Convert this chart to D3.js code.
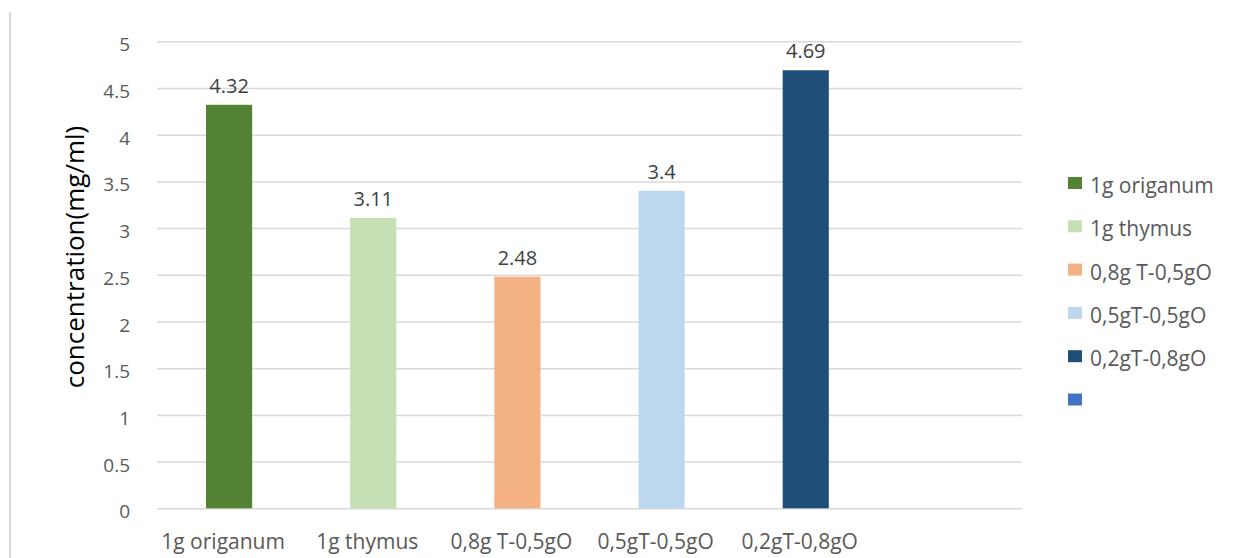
<!DOCTYPE html>
<html>
<head>
<meta charset="utf-8">
<script src="https://cdn.jsdelivr.net/npm/d3@7"></script>
<style>
  html, body { margin: 0; padding: 0; background: #fff; }
  svg { display: block; font-family: "Open Sans", sans-serif; }
</style>
</head>
<body>
<svg id="chart" width="1245" height="558"></svg>
<script>
// Categories along the x axis (the sixth slot is an empty series)
const categories = ["1g origanum", "1g thymus", "0,8g T-0,5gO", "0,5gT-0,5gO", "0,2gT-0,8gO", ""];
// Measured concentrations (mg/ml); the last series has no value
const values = [4.32, 3.11, 2.48, 3.4, 4.69, null];
// Labels printed above each bar
const valueLabels = ["4.32", "3.11", "2.48", "3.4", "4.69", ""];
// Legend entries
const legendLabels = ["1g origanum", "1g thymus", "0,8g T-0,5gO", "0,5gT-0,5gO", "0,2gT-0,8gO", ""];
// Series colours
const colors = ["#548235", "#C5E0B4", "#F4B183", "#BDD7EE", "#1F4E79", "#4472C4"];
// Y axis ticks
const yTicks = [0, 0.5, 1, 1.5, 2, 2.5, 3, 3.5, 4, 4.5, 5];
const yTickLabels = ["0", "0.5", "1", "1.5", "2", "2.5", "3", "3.5", "4", "4.5", "5"];
const yTitle = "concentration(mg/ml)";

const svg = d3.select("#chart");
const plot = { left: 157, right: 1022, top: 41.3, bottom: 508.3 };

const x = d3.scaleBand()
  .domain(d3.range(categories.length))
  .range([plot.left, plot.right])
  .paddingInner(0.68)
  .paddingOuter(0.34);

const y = d3.scaleLinear().domain([0, 5]).range([plot.bottom, plot.top]);

// Thin frame line on the left edge
svg.append("line")
  .attr("x1", 10).attr("x2", 10)
  .attr("y1", 12).attr("y2", 558)
  .attr("stroke", "#d9d9d9").attr("stroke-width", 2);

// Horizontal gridlines
const yAxis = d3.axisLeft(y)
  .tickValues(yTicks)
  .tickSize(-(plot.right - plot.left))
  .tickFormat((d, i) => yTickLabels[i]);

const gy = svg.append("g")
  .attr("transform", `translate(${plot.left},0)`)
  .call(yAxis);
gy.select(".domain").remove();
gy.selectAll(".tick line").attr("stroke", "#d9d9d9").attr("stroke-width", 1.5);
gy.selectAll(".tick text")
  .attr("x", -27)
  .attr("dy", "0.5em")
  .attr("fill", "#595959")
  .style("font-size", "19px")
  .style("font-family", "'Open Sans', sans-serif");

// Bars
svg.append("g").selectAll("rect")
  .data(values.map((v, i) => ({ v, i })).filter(d => d.v !== null))
  .join("rect")
  .attr("x", d => x(d.i))
  .attr("width", x.bandwidth())
  .attr("y", d => y(d.v))
  .attr("height", d => y(0) - y(d.v))
  .attr("fill", d => colors[d.i]);

// Value labels
svg.append("g").selectAll("text")
  .data(values.map((v, i) => ({ v, i })).filter(d => d.v !== null))
  .join("text")
  .attr("x", d => x(d.i) + x.bandwidth() / 2)
  .attr("y", d => y(d.v) - 12)
  .attr("text-anchor", "middle")
  .attr("fill", "#404040")
  .style("font-size", "20px")
  .text(d => valueLabels[d.i]);

// Category labels
const xAxis = d3.axisBottom(x).tickSize(0).tickFormat(i => categories[i]);
const gx = svg.append("g")
  .attr("transform", `translate(0,${plot.bottom})`)
  .call(xAxis);
gx.select(".domain").remove();
gx.selectAll(".tick text")
  .attr("x", -6)
  .attr("y", 41)
  .attr("dy", 0)
  .attr("fill", "#595959")
  .style("font-size", "21px")
  .style("font-family", "'Open Sans', sans-serif");

// Y axis title
svg.append("text")
  .attr("transform", `translate(84,257) rotate(-90)`)
  .attr("text-anchor", "middle")
  .attr("fill", "#000")
  .style("font-size", "26px")
  .text(yTitle);

// Legend
const legend = svg.append("g").attr("transform", "translate(1068,177)");
const items = legend.selectAll("g")
  .data(legendLabels)
  .join("g")
  .attr("transform", (d, i) => `translate(0,${i * 43.3})`);
items.append("rect")
  .attr("width", 14).attr("height", 12)
  .attr("fill", (d, i) => colors[i]);
items.append("text")
  .attr("x", 22)
  .attr("y", 16)
  .attr("fill", "#595959")
  .style("font-size", "21px")
  .text(d => d);
</script>
</body>
</html>
